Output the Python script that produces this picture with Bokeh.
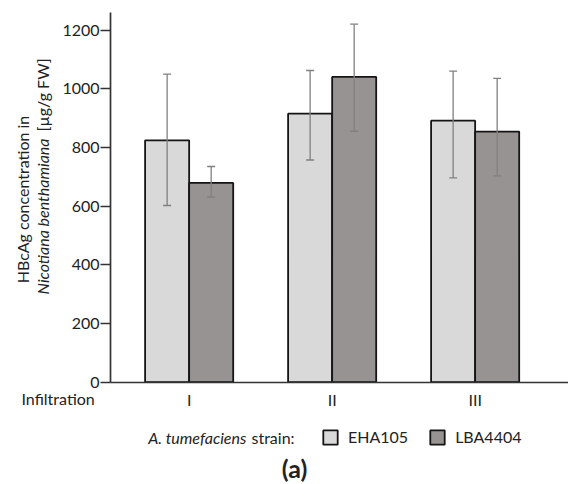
import math
from bokeh.plotting import figure
from bokeh.models import (ColumnDataSource, Whisker, TeeHead, Label, FixedTicker,
                          Range1d, Legend, LegendItem)
from bokeh.embed import file_html
from bokeh.resources import INLINE

# ---- data ----
infiltrations = ["I", "II", "III"]
eha105 = [824, 915, 891]
eha105_lo = [602, 757, 696]
eha105_hi = [1050, 1062, 1060]
lba4404 = [679, 1040, 854]
lba4404_lo = [631, 855, 703]
lba4404_hi = [735, 1220, 1035]
y_ticks = [0, 200, 400, 600, 800, 1000, 1200]

FONT = "Lato"
FS = "16px"
W, H = 568, 484

# page px <-> data mapping (frame covers the whole canvas)
X0, PX0, SX = 0.45, 110.0, 143.0
PY0, SY = 381.7, 352.2 / 1200.0
def dx(px):
    return X0 + (px - PX0) / SX
def dy(py):
    return (PY0 - py) / SY

p = figure(width=W, height=H, output_backend="svg", toolbar_location=None,
           x_range=Range1d(dx(0), dx(W)), y_range=Range1d(dy(H), dy(0)),
           min_border_left=0, min_border_right=0, min_border_top=0,
           min_border_bottom=0)
p.outline_line_color = None
p.grid.visible = False
p.background_fill_color = "white"
p.border_fill_color = "white"

pos = [1, 2, 3]
off = 0.154
bw = 0.308
src_e = ColumnDataSource(dict(x=[v - off for v in pos], top=eha105, lo=eha105_lo, hi=eha105_hi))
src_l = ColumnDataSource(dict(x=[v + off for v in pos], top=lba4404, lo=lba4404_lo, hi=lba4404_hi))

r_e = p.vbar(x="x", top="top", width=bw, source=src_e, fill_color="#d9d9d9",
             line_color="#151515", line_width=1.8)
r_l = p.vbar(x="x", top="top", width=bw, source=src_l, fill_color="#989393",
             line_color="#151515", line_width=1.8)

for src in (src_e, src_l):
    w = Whisker(base="x", lower="lo", upper="hi", source=src, level="overlay",
                line_color="#808080", line_width=1.3,
                upper_head=TeeHead(size=8, line_color="#808080", line_width=1.3),
                lower_head=TeeHead(size=8, line_color="#808080", line_width=1.3))
    p.add_layout(w)

# axes (library axes, pinned at fixed data locations)
yax = p.yaxis[0]
yax.fixed_location = dx(110)
yax.bounds = (0, dy(12))
yax.ticker = FixedTicker(ticks=y_ticks)
yax.minor_tick_line_color = None
yax.major_tick_in = 0
yax.major_tick_out = 10
yax.major_tick_line_color = "#333333"
yax.major_tick_line_width = 1.5
yax.axis_line_color = "#333333"
yax.axis_line_width = 1.7
yax.major_label_text_font = FONT
yax.major_label_text_font_size = FS
yax.major_label_text_color = "#222222"
yax.major_label_standoff = 1

xax = p.xaxis[0]
xax.fixed_location = 0
xax.bounds = (dx(110), dx(W))
xax.ticker = FixedTicker(ticks=pos)
xax.major_label_overrides = {1: infiltrations[0], 2: infiltrations[1], 3: infiltrations[2]}
xax.minor_tick_line_color = None
xax.major_tick_in = 0
xax.major_tick_out = 0
xax.axis_line_color = "#333333"
xax.axis_line_width = 1.7
xax.major_label_text_font = FONT
xax.major_label_text_font_size = FS
xax.major_label_text_color = "#222222"
xax.major_label_standoff = 8

def lab(text, px, py, size=FS, style="normal", align="left", baseline="middle",
        angle=0.0, color="#222222"):
    p.add_layout(Label(x=dx(px), y=dy(py), text=text, text_font=FONT,
                       text_font_size=size, text_font_style=style,
                       text_align=align, text_baseline=baseline, angle=angle,
                       text_color=color))

# y-axis title (two lines, rotated)
lab("HBcAg concentration in", 22, 199, align="center", angle=math.pi / 2)
lab("Nicotiana benthamiana", 42, 138, style="italic", align="right", angle=math.pi / 2)
lab("[µg/g FW]", 42, 131, align="left", angle=math.pi / 2)

# x-axis caption
lab("Infiltration", 21, 398)

# legend title
lab("A. tumefaciens", 246, 437, style="italic", align="right")
lab("strain:", 251, 437, align="left")

legend = Legend(items=[LegendItem(label="EHA105", renderers=[r_e]),
                       LegendItem(label="LBA4404", renderers=[r_l])],
                orientation="horizontal", location=(321, H - 446),
                glyph_width=18, glyph_height=18, label_height=18,
                label_standoff=9, spacing=20,
                padding=0, margin=0, border_line_color=None,
                background_fill_alpha=0, label_text_font=FONT,
                label_text_font_size=FS, label_text_color="#222222")
p.add_layout(legend)

# panel caption
lab("(a)", 294, 467, size="25px", style="bold", align="center")

open("out.html", "w").write(file_html(p, INLINE))
